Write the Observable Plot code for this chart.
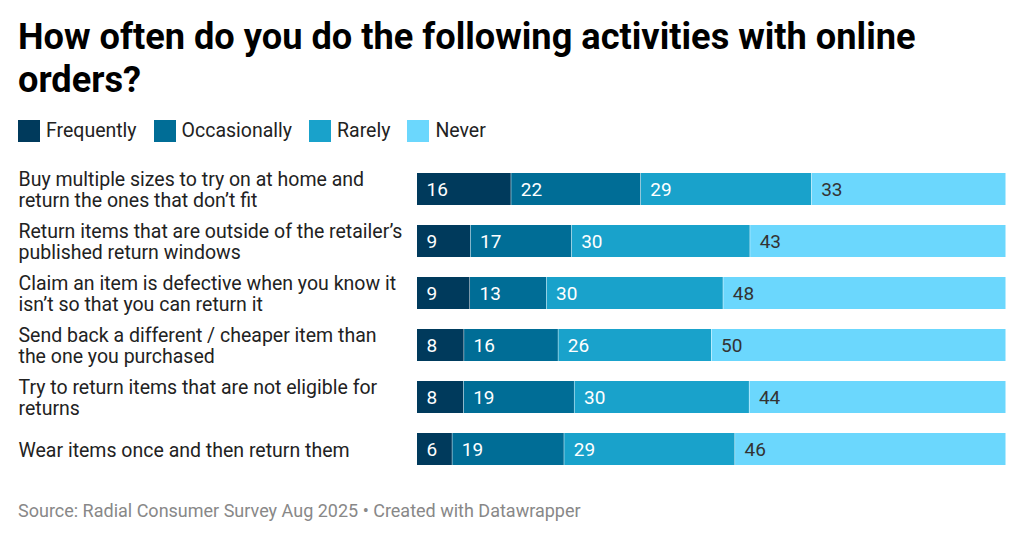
<!DOCTYPE html>
<html>
<head>
<meta charset="utf-8">
<script src="https://cdn.jsdelivr.net/npm/d3@7"></script>
<script src="https://cdn.jsdelivr.net/npm/@observablehq/plot@0.6"></script>
<style>
  html, body { margin: 0; padding: 0; background: #fff; }
  body { font-family: Roboto, "Noto Sans", sans-serif; width: 1024px; height: 540px; overflow: hidden; position: relative; }
  h1 { margin: 0; position: absolute; left: 18px; top: 15px; width: 950px; font-size: 36.2px; line-height: 43px; font-weight: 700; color: #000; }
  #legend { position: absolute; left: 18px; top: 119px; display: flex; gap: 17px; font-size: 19.5px; color: #222; }
  #legend .item { display: flex; align-items: center; }
  #legend .sw { width: 22px; height: 22px; margin-right: 6px; }
  #chart { position: absolute; left: 0; top: 160px; }
  #source { position: absolute; left: 18px; top: 500px; font-size: 18px; color: #888; }
</style>
</head>
<body>
<h1>How often do you do the following activities with online orders?</h1>
<div id="legend"></div>
<div id="chart"></div>
<div id="source">Source: Radial Consumer Survey Aug 2025 • Created with Datawrapper</div>
<script>
const categories = [
  "Buy multiple sizes to try on at home and\nreturn the ones that don’t fit",
  "Return items that are outside of the retailer’s\npublished return windows",
  "Claim an item is defective when you know it\nisn’t so that you can return it",
  "Send back a different / cheaper item than\nthe one you purchased",
  "Try to return items that are not eligible for\nreturns",
  "Wear items once and then return them"
];
const series = ["Frequently", "Occasionally", "Rarely", "Never"];
const colors = ["#003a5c", "#006d96", "#19a2cb", "#6bd7fd"];
const textColors = ["#fff", "#fff", "#fff", "#333"];
const frequently = [16, 9, 9, 8, 8, 6];
const occasionally = [22, 17, 13, 16, 19, 19];
const rarely = [29, 30, 30, 26, 30, 29];
const never = [33, 43, 48, 50, 44, 46];

const values = [frequently, occasionally, rarely, never];
const table = [];
categories.forEach((cat, i) => {
  series.forEach((s, j) => {
    table.push({cat, series: s, value: values[j][i], tc: textColors[j]});
  });
});

const legend = document.getElementById("legend");
series.forEach((s, j) => {
  const it = document.createElement("div");
  it.className = "item";
  it.innerHTML = `<span class="sw" style="background:${colors[j]}"></span><span>${s}</span>`;
  legend.appendChild(it);
});

const chart = Plot.plot({
  width: 1024,
  height: 318,
  marginLeft: 417,
  marginRight: 18,
  marginTop: 12,
  marginBottom: 11,
  style: {fontFamily: "Roboto, 'Noto Sans', sans-serif", background: "#fff"},
  x: {domain: [0, 1], axis: null},
  y: {domain: categories, axis: null, paddingInner: 0.38, paddingOuter: 0},
  color: {domain: series, range: colors},
  marks: [
    Plot.barX(table, Plot.stackX({x: "value", y: "cat", z: "series", fill: "series", offset: "normalize", insetRight: 0.5})),
    Plot.text(table, Plot.stackX1({x: "value", y: "cat", z: "series", offset: "normalize", text: d => String(d.value), fill: "tc", textAnchor: "start", dx: 9, fontSize: 19})),
    Plot.text(categories, {y: d => d, text: d => d, frameAnchor: "left", dx: -399, textAnchor: "start", fontSize: 19.5, lineHeight: 1.12, fill: "#222"})
  ]
});
document.getElementById("chart").appendChild(chart);
</script>
</body>
</html>
